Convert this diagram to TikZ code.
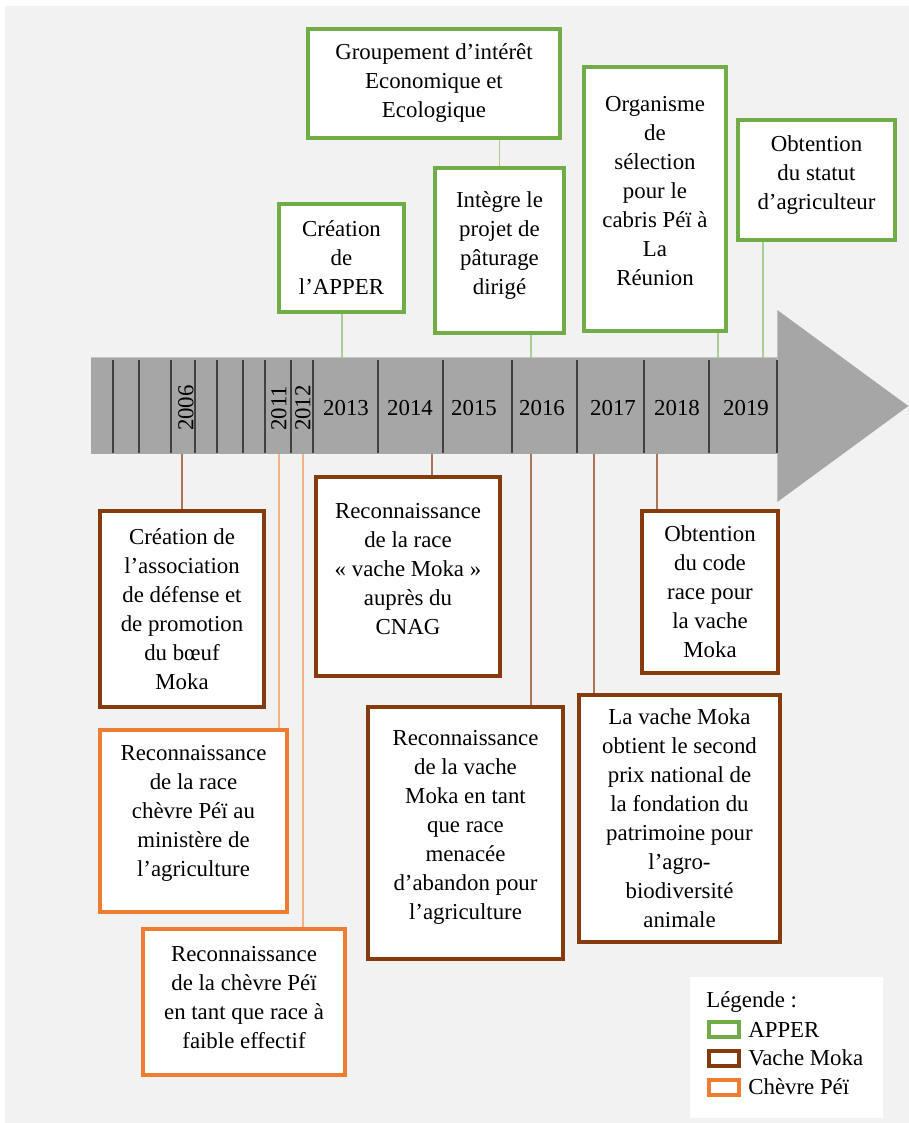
\documentclass[tikz,border=0pt]{standalone}
\usepackage{fontspec}
\setmainfont{Liberation Serif}
\usepackage{xcolor}
\usetikzlibrary{positioning}
\definecolor{apper}{HTML}{70AD47}
\definecolor{moka}{HTML}{843C0C}
\definecolor{chevre}{HTML}{ED7D31}
\definecolor{fond}{HTML}{F2F2F2}
\definecolor{frisegris}{HTML}{A6A6A6}

\begin{document}
\begin{tikzpicture}[
  x=0.02cm, y=-0.02cm,
  every node/.style={font=\fontsize{13}{16.5}\selectfont},
  boite/.style={draw, line width=2.27pt, fill=white, align=center, inner sep=2pt},
  apperbox/.style={boite, draw=apper},
  mokabox/.style={boite, draw=moka},
  chevrebox/.style={boite, draw=chevre},
  lienvert/.style={draw=apper!60!white, line width=0.6pt},
  lienmoka/.style={draw=moka!70!white, line width=0.6pt},
  lienchevre/.style={draw=chevre!60!white, line width=0.6pt},
  annee/.style={inner sep=0pt},
  legtexte/.style={inner sep=0pt, anchor=west}
]
\useasboundingbox (0,0) rectangle (909,1123);
\fill[white] (0,0) rectangle (909,1123);
\fill[fond] (5,6) rectangle (909,1123);

% frise
\node[fill=frisegris, minimum width=13.72cm, minimum height=1.92cm, inner sep=0pt] (frise) at (434,406) {};
\fill[frisegris] (frise.east) ++(0,-96) -- ++(131,96) -- ++(-131,96) -- cycle;
\draw[gray!45, line width=0.6pt] (frise.north west) -- (frise.north east);
\foreach \x in {113,139,171,195,217,243,265,291,313,378,443,512,577,644,709,777}
  \draw[black!75, line width=0.8pt] (\x,360) -- (\x,453);
\foreach \an/\x in {2006/186,2011/279,2012/303}
  \node[annee, rotate=90] (a\an) at (\x,408) {\an};
\foreach \an/\x in {2013/346,2014/410,2015/474,2016/542,2017/613,2018/677,2019/746}
  \node[annee] (a\an) at (\x,408) {\an};

\coordinate (h2013) at (342,358);
\coordinate (h2016) at (531,358);
\coordinate (h2018) at (718,358);
\coordinate (h2019) at (763,358);
\coordinate (b2006) at (182,454);
\coordinate (b2011) at (279,454);
\coordinate (b2012) at (303,454);
\coordinate (b2014) at (432,454);
\coordinate (b2016) at (531,454);
\coordinate (b2017) at (594,454);
\coordinate (b2018) at (657,454);

% APPER
\node[apperbox, minimum width=5.04cm, minimum height=2.18cm] (gie) at (434,83.5) {Groupement d’intérêt\\Economique et\\Ecologique};
\node[apperbox, minimum width=2.5cm, minimum height=2.16cm] (creation) at (341.5,258) {Création\\de\\l’APPER};
\node[apperbox, minimum width=2.58cm, minimum height=3.3cm, text depth=8.5pt] (paturage) at (499.5,250.5) {Intègre le\\projet de\\pâturage\\dirigé};
\node[apperbox, minimum width=2.84cm, minimum height=5.28cm, text depth=9pt] (organisme) at (655,199) {Organisme\\de\\sélection\\pour le\\cabris Péï à\\La\\Réunion};
\node[apperbox, minimum width=3.14cm, minimum height=2.4cm, text depth=8.5pt] (statut) at (816.5,180) {Obtention\\du statut\\d’agriculteur};

% vache Moka
\node[mokabox, minimum width=3.28cm, minimum height=3.92cm] (assoc) at (182,609) {Création de\\l’association\\de défense et\\de promotion\\du bœuf\\Moka};
\node[mokabox, minimum width=3.68cm, minimum height=3.98cm, text depth=9pt] (cnag) at (408,576.5) {Reconnaissance\\de la race\\« vache Moka »\\auprès du\\CNAG};
\node[mokabox, minimum width=2.72cm, minimum height=3.24cm] (code) at (710,592) {Obtention\\du code\\race pour\\la vache\\Moka};
\node[mokabox, minimum width=3.9cm, minimum height=5.04cm, text depth=9.6pt] (menacee) at (465.5,833) {Reconnaissance\\de la vache\\Moka en tant\\que race\\menacée\\d’abandon pour\\l’agriculture};
\node[mokabox, minimum width=4.02cm, minimum height=4.94cm] (prix) at (679.5,818.5) {La vache Moka\\obtient le second\\prix national de\\la fondation du\\patrimoine pour\\l’agro-\\biodiversité\\animale};

% chevre Pei
\node[chevrebox, minimum width=3.74cm, minimum height=3.64cm, text depth=11.8pt] (ministere) at (193.5,821) {Reconnaissance\\de la race\\chèvre Péï au\\ministère de\\l’agriculture};
\node[chevrebox, minimum width=4.04cm, minimum height=2.92cm, text depth=5.7pt] (effectif) at (244,1002) {Reconnaissance\\de la chèvre Péï\\en tant que race à\\faible effectif};

% liens
\draw[lienvert] (paturage.north) -- (paturage.north |- gie.south);
\draw[lienvert] (h2013) -- (h2013 |- creation.south);
\draw[lienvert] (h2016) -- (h2016 |- paturage.south);
\draw[lienvert] (h2018) -- (h2018 |- organisme.south);
\draw[lienvert] (h2019) -- (h2019 |- statut.south);
\draw[lienmoka] (b2006) -- (b2006 |- assoc.north);
\draw[lienmoka] (b2014) -- (b2014 |- cnag.north);
\draw[lienmoka] (b2016) -- (b2016 |- menacee.north);
\draw[lienmoka] (b2017) -- (b2017 |- prix.north);
\draw[lienmoka] (b2018) -- (b2018 |- code.north);
\draw[lienchevre] (b2011) -- (b2011 |- ministere.north);
\draw[lienchevre] (b2012) -- (b2012 |- effectif.north);

% legende
\node[fill=white, minimum width=3.86cm, minimum height=2.82cm] (legende) at (786.5,1047.5) {};
\node[legtexte] (titre) at (706,1002) {Légende :};
\node[apperbox, minimum width=0.6cm, minimum height=0.3cm, inner sep=0pt] (lg1) at (724,1029.5) {};
\node[mokabox, minimum width=0.6cm, minimum height=0.3cm, inner sep=0pt] (lg2) at (724,1058) {};
\node[chevrebox, minimum width=0.6cm, minimum height=0.3cm, inner sep=0pt] (lg3) at (724,1087) {};
\node[legtexte, right=0.14cm of lg1] (t1) {APPER};
\node[legtexte, right=0.14cm of lg2] (t2) {Vache Moka};
\node[legtexte, right=0.14cm of lg3] (t3) {Chèvre Péï};
\end{tikzpicture}
\end{document}
